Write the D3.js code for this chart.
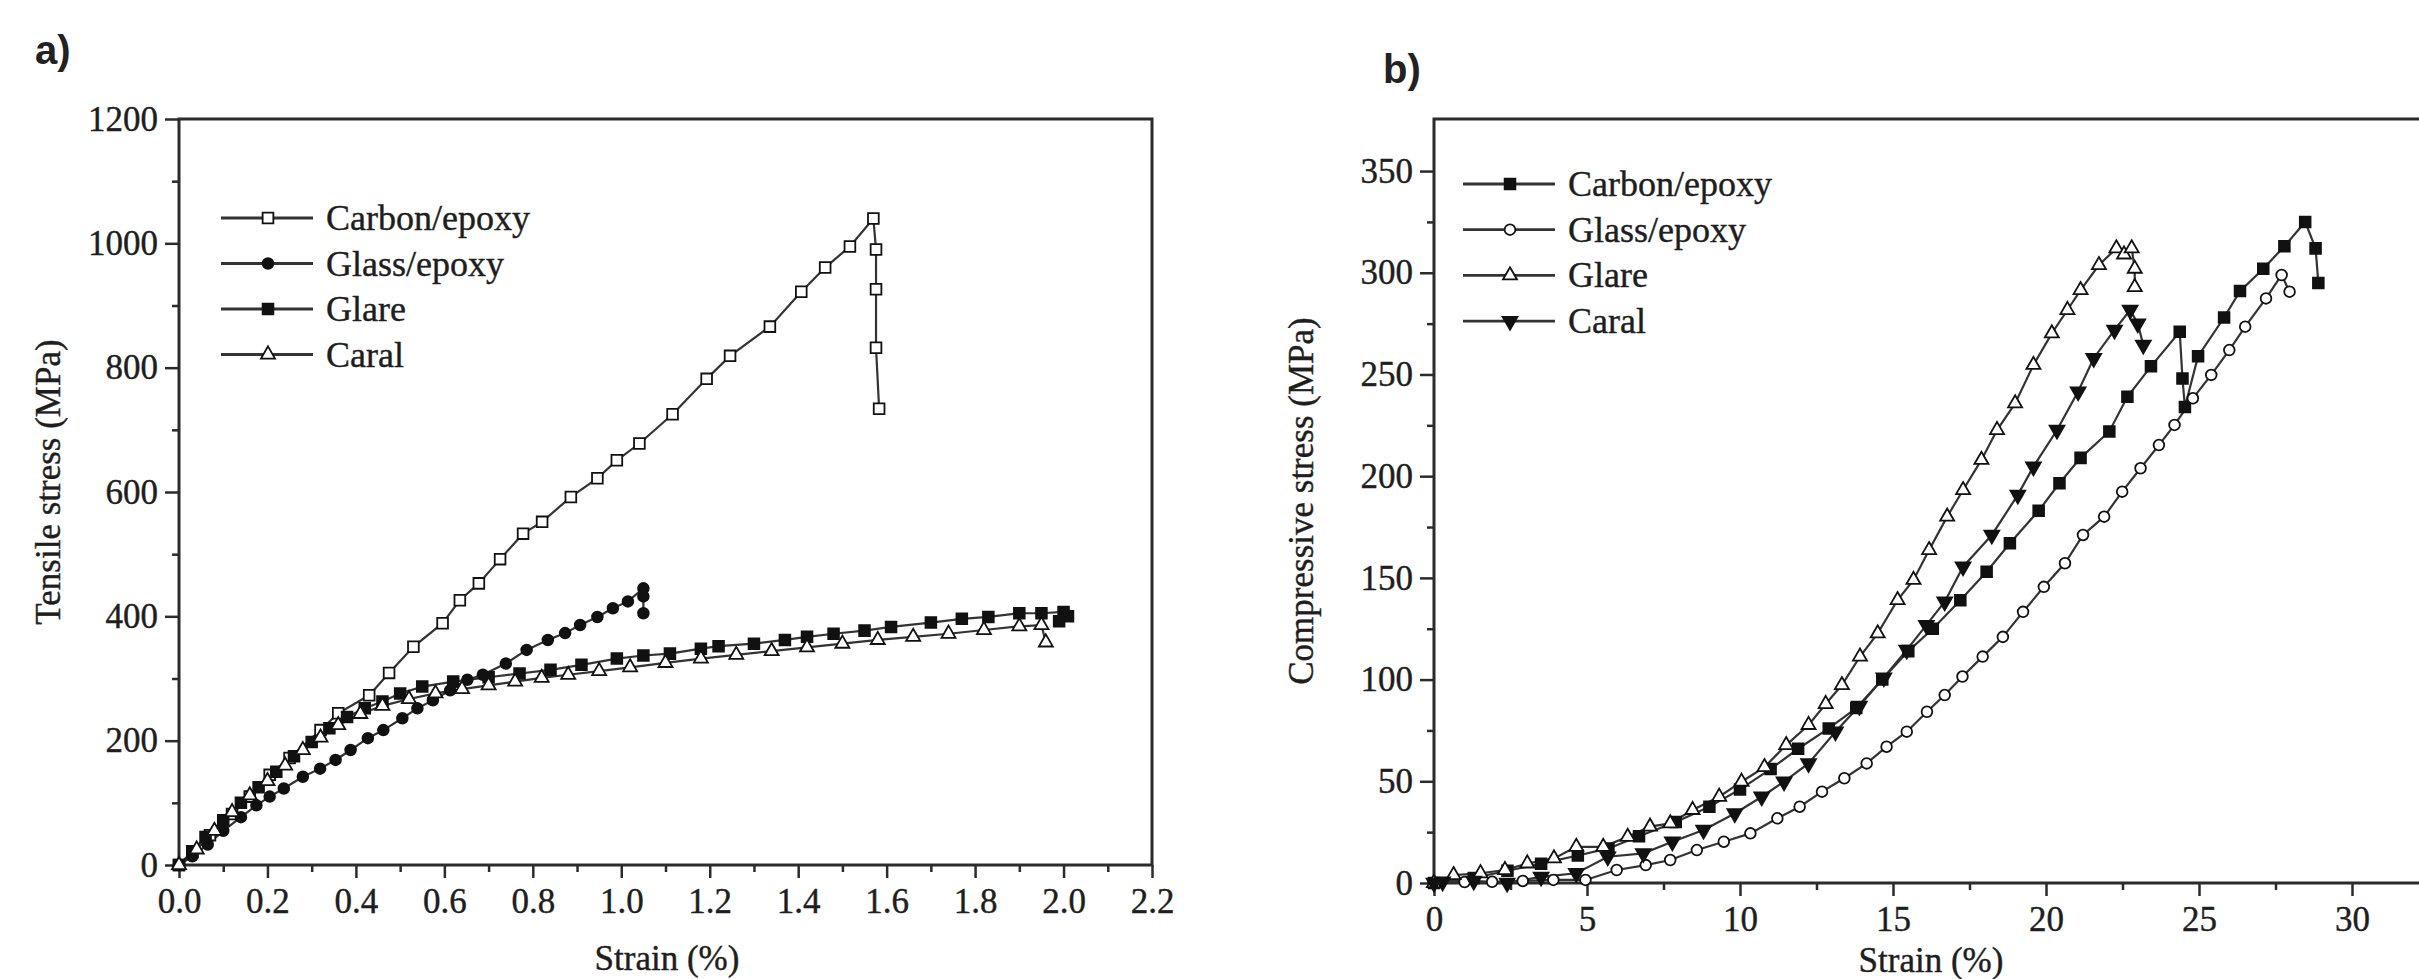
<!DOCTYPE html>
<html>
<head>
<meta charset="utf-8">
<script src="https://cdnjs.cloudflare.com/ajax/libs/d3/7.8.5/d3.min.js"></script>
<style>
	body { margin: 0; background: #fff; }
	svg { display: block; }
</style>
</head>
<body>
<svg id="chart" width="2419" height="979"></svg>
<script>
// ---- data: a) tensile ----
var tensileCarbon = [[0,0],[0.03,20],[0.07,48],[0.12,82],[0.16,110],[0.205,145],[0.25,172],[0.32,217],[0.36,244],[0.43,273],[0.475,309],[0.53,351],[0.596,389],[0.635,426],[0.678,453],[0.726,492],[0.778,533],[0.821,552],[0.886,592],[0.946,622],[0.99,651],[1.041,678],[1.116,725],[1.193,782],[1.246,819],[1.336,866],[1.407,922],[1.461,961],[1.517,995],[1.570,1040],[1.576,990],[1.576,926],[1.576,832],[1.583,734]];
var tensileGlass = [[0,0],[0.03,14],[0.065,33],[0.1,55],[0.14,77],[0.175,96],[0.205,110],[0.237,123],[0.28,142],[0.319,155],[0.354,169],[0.388,185],[0.427,204],[0.462,217],[0.505,236],[0.539,252],[0.574,265],[0.613,281],[0.652,298],[0.687,306],[0.739,324],[0.786,346],[0.834,362],[0.873,373],[0.907,386],[0.946,399],[0.981,413],[1.015,424],[1.05,445],[1.05,432],[1.05,405]];
var tensileGlare = [[0,0],[0.03,22],[0.06,45],[0.1,72],[0.14,100],[0.18,125],[0.22,150],[0.26,175],[0.3,198],[0.34,220],[0.38,238],[0.42,252],[0.46,263],[0.5,276],[0.55,287],[0.62,295],[0.7,302],[0.77,308],[0.84,314],[0.91,322],[0.99,332],[1.05,337],[1.11,340],[1.18,348],[1.22,352],[1.30,356],[1.37,362],[1.42,367],[1.48,372],[1.55,377],[1.61,383],[1.70,390],[1.77,396],[1.83,399],[1.90,405],[1.95,405],[2.0,407],[2.01,400],[1.99,392]];
var tensileCaral = [[0,0],[0.04,25],[0.08,55],[0.12,85],[0.16,112],[0.2,135],[0.24,160],[0.28,185],[0.32,205],[0.36,225],[0.41,243],[0.46,256],[0.52,267],[0.58,276],[0.64,283],[0.7,289],[0.76,295],[0.82,301],[0.88,306],[0.95,312],[1.02,318],[1.1,325],[1.18,332],[1.26,338],[1.34,344],[1.42,350],[1.50,356],[1.58,362],[1.66,367],[1.74,372],[1.82,378],[1.90,384],[1.95,386],[1.96,358]];

// ---- data: b) compressive ----
var compCarbon = [[0,0],[1.3,2.5],[2.4,6],[3.5,9.5],[4.7,13.5],[5.7,17],[6.7,23],[7.9,30],[9.0,37.5],[10.0,46],[11.0,56],[11.9,66],[12.9,76],[13.8,86],[14.65,100],[15.5,114],[16.3,125],[17.2,139],[18.06,153],[18.82,167],[19.76,183],[20.44,196.5],[21.13,209],[22.07,222],[22.66,239],[23.43,254],[24.37,271],[24.46,248],[24.54,234],[24.97,259],[25.82,278],[26.34,291],[27.1,302],[27.79,313],[28.47,325],[28.81,312],[28.9,295]];
var compGlass = [[0,0],[1.0,0.5],[1.9,0.6],[2.9,1],[3.9,1.5],[4.95,1.5],[5.97,6.4],[6.92,8.8],[7.72,11.3],[8.59,16.2],[9.47,20.3],[10.34,24.4],[11.22,31.8],[11.95,37.5],[12.68,44.9],[13.41,51.5],[14.14,58.8],[14.79,67],[15.45,74.4],[16.11,84.2],[16.69,92.4],[17.27,101.5],[17.93,111.3],[18.59,121],[19.25,133.3],[19.93,145.6],[20.62,157.2],[21.21,171.1],[21.9,180.1],[22.49,192.4],[23.09,203.9],[23.69,215.3],[24.2,225.2],[24.8,238.3],[25.4,249.8],[25.99,262],[26.51,273.5],[27.19,287.4],[27.7,298.9],[27.96,290.7]];
var compGlare = [[0,0],[0.64,3.9],[1.52,4.8],[2.32,6.4],[3.05,9.6],[3.92,12.1],[4.65,17.8],[5.53,17.8],[6.33,22.7],[7.06,27.7],[7.72,29.3],[8.45,35.9],[9.32,42.4],[10.05,49.8],[10.8,57],[11.51,67.8],[12.24,77.7],[12.8,88],[13.33,97.3],[13.92,111.3],[14.5,122.7],[15.15,139.1],[15.67,149],[16.18,163.7],[16.77,180.1],[17.29,193.2],[17.89,208],[18.4,222.7],[18.99,235.8],[19.59,254.7],[20.19,270.2],[20.7,281.7],[21.13,291.5],[21.73,303.8],[22.3,312],[22.55,309],[22.8,312],[22.9,302],[22.9,293]];
var compCaral = [[0,0],[0.28,0.6],[1.3,1],[2.39,0],[3.5,3],[4.65,4.8],[5.68,12.9],[6.84,14.6],[7.79,20.3],[8.81,26.1],[9.83,34.2],[10.71,42.4],[11.44,49.8],[12.24,58.8],[13.12,74.4],[13.9,87],[14.7,101],[15.45,114.6],[16.09,126.8],[16.69,138.3],[17.29,155.5],[18.23,171.1],[19.08,190.8],[19.59,204.7],[20.36,222.7],[21.05,241.6],[21.56,258],[22.24,271.9],[22.75,281.7],[23.0,275],[23.18,264.5]];

// ---- ticks ----
var tensileXTicks = [0,0.2,0.4,0.6,0.8,1.0,1.2,1.4,1.6,1.8,2.0,2.2];
var tensileXMinor = [0.1,0.3,0.5,0.7,0.9,1.1,1.3,1.5,1.7,1.9,2.1];
var tensileYTicks = [0,200,400,600,800,1000,1200];
var tensileYMinor = [100,300,500,700,900,1100];
var compXTicks = [0,5,10,15,20,25,30];
var compXMinor = [2.5,7.5,12.5,17.5,22.5,27.5];
var compYTicks = [0,50,100,150,200,250,300,350];
var compYMinor = [25,75,125,175,225,275,325];

var svg = d3.select("#chart");
var ink = "#2b2b2b";
var serif = "'Liberation Serif', 'Times New Roman', serif";

function marker(g, kind, filled, px, py) {
	var types = { square: d3.symbolSquare, circle: d3.symbolCircle, tri: d3.symbolTriangle, down: d3.symbolTriangle };
	var sizes = { square: 115, circle: 90, tri: 85, down: 95 };
	var p = g.append("path")
		.attr("d", d3.symbol().type(types[kind]).size(sizes[kind])())
		.attr("fill", filled ? "#111" : "#fff")
		.attr("stroke", "#111")
		.attr("stroke-width", 1.8);
	if (kind == "down") {
		p.attr("transform", "translate(" + px + "," + py + ") rotate(180)");
	} else {
		p.attr("transform", "translate(" + px + "," + py + ")");
	}
}

function txt(sel, size) {
	return sel.attr("font-family", serif).attr("font-size", size)
		.attr("fill", "#1e1e1e").attr("stroke", "#1e1e1e").attr("stroke-width", 0.4);
}

function drawPanel(cfg) {
	var x = d3.scaleLinear().domain(cfg.xDomain).range([cfg.left, cfg.right]);
	var y = d3.scaleLinear().domain(cfg.yDomain).range([cfg.bottom, cfg.top]);
	var g = svg.append("g");

	// 坐标轴
	var xa = g.append("g").attr("transform", "translate(0," + cfg.bottom + ")")
		.call(d3.axisBottom(x).tickValues(cfg.xTicks).tickFormat(cfg.xFormat).tickSize(13).tickPadding(10));
	var xm = g.append("g").attr("transform", "translate(0," + cfg.bottom + ")")
		.call(d3.axisBottom(x).tickValues(cfg.xMinor).tickFormat("").tickSize(7));
	var ya = g.append("g").attr("transform", "translate(" + cfg.left + ",0)")
		.call(d3.axisLeft(y).tickValues(cfg.yTicks).tickFormat(d3.format("d")).tickSize(14).tickPadding(7));
	var ym = g.append("g").attr("transform", "translate(" + cfg.left + ",0)")
		.call(d3.axisLeft(y).tickValues(cfg.yMinor).tickFormat("").tickSize(7));
	[xa, xm, ya, ym].forEach(function(a) {
		a.select(".domain").remove();
		a.selectAll("line").attr("stroke", ink).attr("stroke-width", 2.5);
		txt(a.selectAll("text"), 35);
	});

	g.append("rect")
		.attr("x", cfg.left).attr("y", cfg.top)
		.attr("width", cfg.right - cfg.left).attr("height", cfg.bottom - cfg.top)
		.attr("fill", "none").attr("stroke", ink).attr("stroke-width", 3);

	// 曲线
	var line = d3.line().x(function(d) { return x(d[0]); }).y(function(d) { return y(d[1]); });
	cfg.series.forEach(function(s) {
		g.append("path").datum(s.data).attr("d", line)
			.attr("fill", "none").attr("stroke", "#333").attr("stroke-width", 2.2);
	});
	cfg.series.forEach(function(s) {
		var mg = g.append("g");
		s.data.forEach(function(d) {
			marker(mg, s.kind, s.filled, x(d[0]), y(d[1]));
		});
	});

	// 图例
	cfg.series.forEach(function(s, i) {
		var ly = cfg.legend.y + i * cfg.legend.step;
		g.append("line").attr("x1", cfg.legend.x).attr("x2", cfg.legend.x + 92)
			.attr("y1", ly).attr("y2", ly).attr("stroke", "#333").attr("stroke-width", 2.8);
		marker(g, s.kind, s.filled, cfg.legend.x + 47, ly);
		txt(g.append("text"), 36).attr("x", cfg.legend.x + 105).attr("y", ly + 12)
			.text(s.name);
	});

	txt(g.append("text"), 35).attr("x", cfg.xTitle[0]).attr("y", cfg.xTitle[1])
		.attr("text-anchor", "middle")
		.text("Strain (%)");
	txt(g.append("text"), 35).attr("transform", "translate(" + cfg.yTitle[0] + "," + cfg.yTitle[1] + ") rotate(-90)")
		.attr("text-anchor", "middle")
		.text(cfg.yLabel);
	svg.append("text").attr("x", cfg.tag[0]).attr("y", cfg.tag[1])
		.attr("font-family", "'Liberation Sans', Arial, sans-serif").attr("font-weight", "bold")
		.attr("font-size", 40).attr("fill", "#222").text(cfg.tagText);
}

drawPanel({
	left: 179, right: 1152, top: 119, bottom: 865,
	xDomain: [0, 2.2], yDomain: [0, 1200],
	xTicks: tensileXTicks, xMinor: tensileXMinor, yTicks: tensileYTicks, yMinor: tensileYMinor,
	xFormat: d3.format(".1f"),
	series: [
		{ name: "Carbon/epoxy", data: tensileCarbon, kind: "square", filled: false },
		{ name: "Glass/epoxy", data: tensileGlass, kind: "circle", filled: true },
		{ name: "Glare", data: tensileGlare, kind: "square", filled: true },
		{ name: "Caral", data: tensileCaral, kind: "tri", filled: false }
	],
	legend: { x: 221, y: 218, step: 45.5 },
	xTitle: [667, 970], yTitle: [60, 482], yLabel: "Tensile stress (MPa)",
	tag: [35, 64], tagText: "a)"
});

drawPanel({
	left: 1434, right: 2428.5, top: 119, bottom: 883,
	xDomain: [0, 32.5], yDomain: [0, 375.6],
	xTicks: compXTicks, xMinor: compXMinor, yTicks: compYTicks, yMinor: compYMinor,
	xFormat: d3.format("d"),
	series: [
		{ name: "Carbon/epoxy", data: compCarbon, kind: "square", filled: true },
		{ name: "Glass/epoxy", data: compGlass, kind: "circle", filled: false },
		{ name: "Glare", data: compGlare, kind: "tri", filled: false },
		{ name: "Caral", data: compCaral, kind: "down", filled: true }
	],
	legend: { x: 1463, y: 184, step: 45.7 },
	xTitle: [1931, 972], yTitle: [1313, 501], yLabel: "Compressive stress (MPa)",
	tag: [1383, 83], tagText: "b)"
});
</script>
</body>
</html>
